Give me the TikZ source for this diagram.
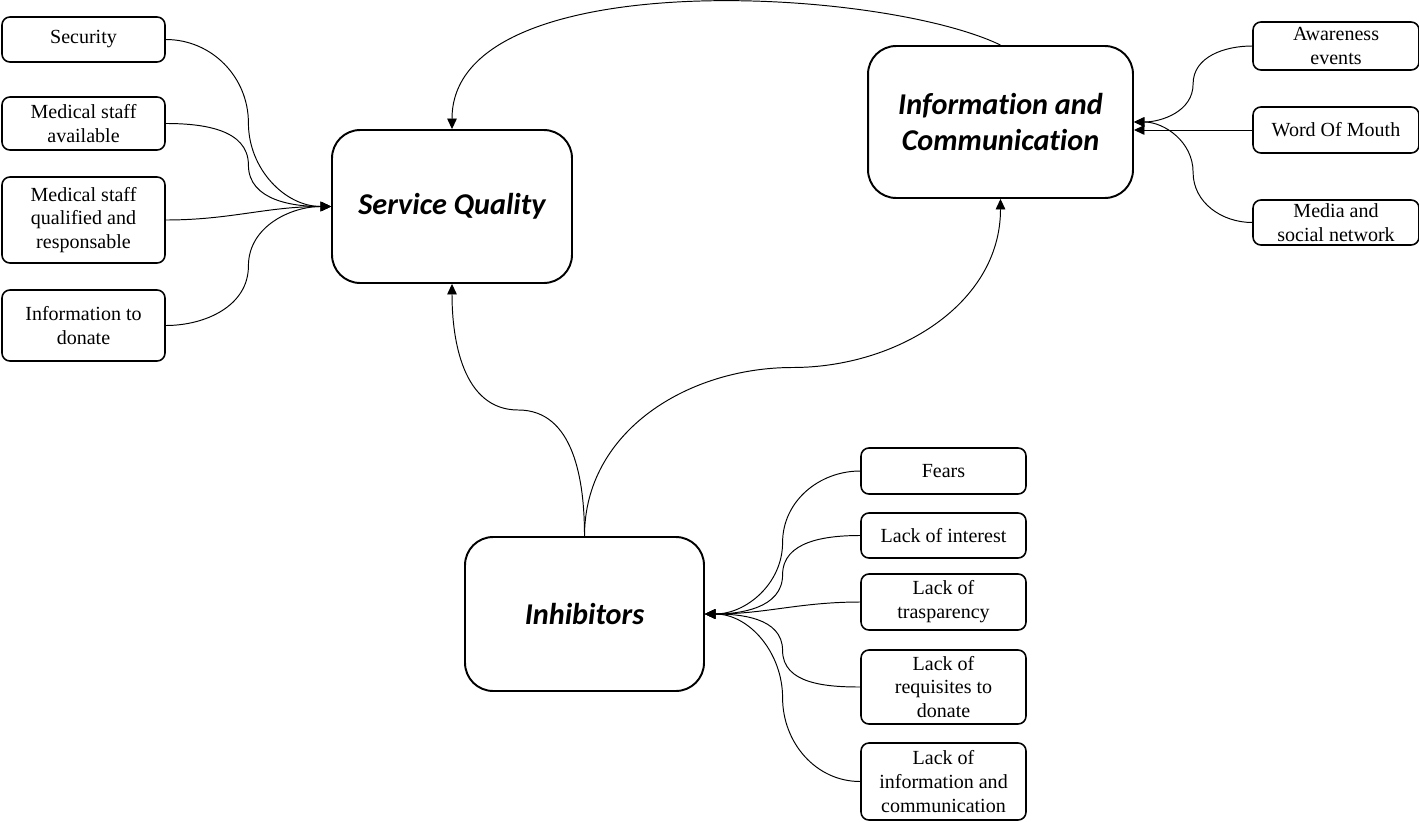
\documentclass[tikz,border=0pt]{standalone}
\usepackage{fontspec}
\setmainfont{Liberation Serif}
\newfontfamily\topicfont[Ligatures=NoCommon]{Carlito}
\usetikzlibrary{arrows.meta,calc}

\begin{document}
\begin{tikzpicture}[x=0.02cm,y=-0.02cm,
    item/.style={draw,line width=0.9pt,rounded corners=4.5pt,minimum width=3.26cm,align=center,inner sep=1pt,font=\fontsize{11.4}{13.6}\selectfont},
    topic/.style={draw,line width=1.1pt,rounded corners=16pt,align=center,font=\topicfont\bfseries\itshape\fontsize{17.2}{20.5}\selectfont},
    link/.style={line width=0.55pt,-{Triangle[length=6pt,width=5.5pt]}}]
    \useasboundingbox (0,0) rectangle (1419,821);
    % main topics
    \node[topic,minimum width=4.8cm,minimum height=3.06cm] (sq) at (452,206.5) {Service Quality};
    \node[topic,minimum width=5.3cm,minimum height=3.04cm] (ic) at (1000.5,122) {Information and\\Communication};
    \node[topic,minimum width=4.78cm,minimum height=3.08cm] (inh) at (584.5,614) {Inhibitors};
    % service quality items
    \node[item,minimum height=0.9cm] (sec) at (83.5,39.5) {Security};
    \node[item,minimum height=1.06cm] (msa) at (83.5,123.5) {Medical staff\\available};
    \node[item,minimum height=1.72cm] (msq) at (83.5,220) {Medical staff\\qualified and\\responsable};
    \node[item,minimum height=1.42cm] (itd) at (83.5,325.5) {Information to\\donate};
    % information items
    \node[item,minimum width=3.32cm,minimum height=0.96cm] (aw) at (1336,46) {Awareness\\events};
    \node[item,minimum width=3.32cm,minimum height=0.92cm] (wom) at (1336,130) {Word Of Mouth};
    \node[item,minimum width=3.32cm,minimum height=0.9cm] (med) at (1336,222.5) {Media and\\social network};
    % inhibitor items
    \node[item,minimum width=3.3cm,minimum height=0.92cm] (fears) at (943.5,471) {Fears};
    \node[item,minimum width=3.3cm,minimum height=0.9cm] (loi) at (943.5,535.5) {Lack of interest};
    \node[item,minimum width=3.3cm,minimum height=1.12cm] (lot) at (943.5,602) {Lack of\\trasparency};
    \node[item,minimum width=3.3cm,minimum height=1.48cm] (lor) at (943.5,687) {Lack of\\requisites to\\donate};
    \node[item,minimum width=3.3cm,minimum height=1.54cm] (loic) at (943.5,781.5) {Lack of\\information and\\communication};
    % lines into service quality
    \draw[link] (sec.east) to[out=0,in=90] ($(sec.east)!0.5!(sq.west)$) to[out=-90,in=180] (sq.west);
    \draw[link] (msa.east) to[out=0,in=90] ($(msa.east)!0.5!(sq.west)$) to[out=-90,in=180] (sq.west);
    \draw[link] (msq.east) to[out=0,in=180] (sq.west);
    \draw[link] (itd.east) to[out=0,in=-90] ($(itd.east)!0.5!(sq.west)$) to[out=90,in=180] (sq.west);
    % lines into information and communication
    \draw[link] (aw.west) to[out=180,in=90] ($(aw.west)!0.5!(ic.east)$) to[out=-90,in=0] (ic.east);
    \draw[link] (wom.west) -- (wom.west -| ic.east);
    \draw[link] (med.west) to[out=180,in=-90] ($(med.west)!0.5!(ic.east)$) to[out=90,in=0] (ic.east);
    % lines into inhibitors
    \draw[link] (fears.west) to[out=180,in=90] ($(fears.west)!0.5!(inh.east)$) to[out=-90,in=0] (inh.east);
    \draw[link] (loi.west) to[out=180,in=90] ($(loi.west)!0.5!(inh.east)$) to[out=-90,in=0] (inh.east);
    \draw[link] (lot.west) to[out=180,in=0] (inh.east);
    \draw[link] (lor.west) to[out=180,in=-90] ($(lor.west)!0.5!(inh.east)$) to[out=90,in=0] (inh.east);
    \draw[link] (loic.west) to[out=180,in=-90] ($(loic.west)!0.5!(inh.east)$) to[out=90,in=0] (inh.east);
    % lines between topics
    \draw[link] (ic.north) .. controls +(-120,-58) and +(0,-166) .. (sq.north);
    \draw[link] (inh.north) to[out=90,in=0] ($(inh.north)!0.5!(sq.south)$) to[out=180,in=-90] (sq.south);
    \draw[link] (inh.north) to[out=90,in=180] ($(inh.north)!0.5!(ic.south)$) to[out=0,in=-90] (ic.south);
\end{tikzpicture}
\end{document}
